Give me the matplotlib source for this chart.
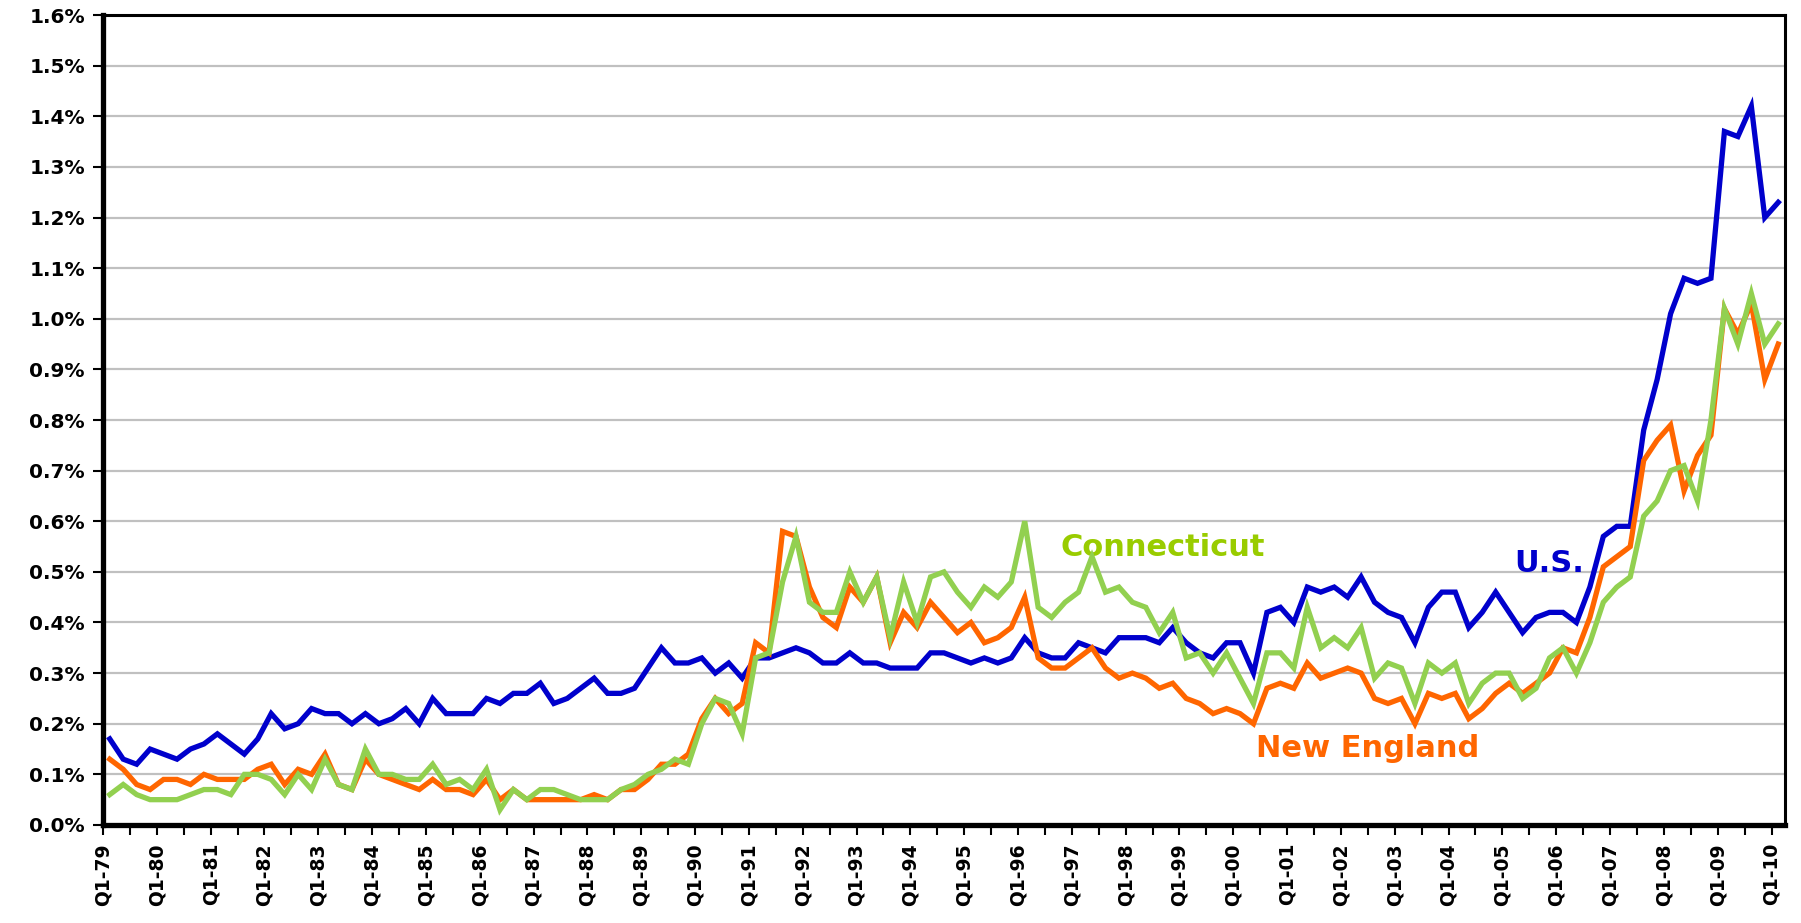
import matplotlib.pyplot as plt
from matplotlib.ticker import FixedLocator, FuncFormatter

# Quarterly rates, Q1-79 .. Q1-10 (percent)
us = [
    0.17, 0.13, 0.12, 0.15, 0.14, 0.13, 0.15, 0.16, 0.18, 0.16, 0.14, 0.17,
    0.22, 0.19, 0.20, 0.23, 0.22, 0.22, 0.20, 0.22, 0.20, 0.21, 0.23, 0.20,
    0.25, 0.22, 0.22, 0.22, 0.25, 0.24, 0.26, 0.26, 0.28, 0.24, 0.25, 0.27,
    0.29, 0.26, 0.26, 0.27, 0.31, 0.35, 0.32, 0.32, 0.33, 0.30, 0.32, 0.29,
    0.33, 0.33, 0.34, 0.35, 0.34, 0.32, 0.32, 0.34, 0.32, 0.32, 0.31, 0.31,
    0.31, 0.34, 0.34, 0.33, 0.32, 0.33, 0.32, 0.33, 0.37, 0.34, 0.33, 0.33,
    0.36, 0.35, 0.34, 0.37, 0.37, 0.37, 0.36, 0.39, 0.36, 0.34, 0.33, 0.36,
    0.36, 0.30, 0.42, 0.43, 0.40, 0.47, 0.46, 0.47, 0.45, 0.49, 0.44, 0.42,
    0.41, 0.36, 0.43, 0.46, 0.46, 0.39, 0.42, 0.46, 0.42, 0.38, 0.41, 0.42,
    0.42, 0.40, 0.47, 0.57, 0.59, 0.59, 0.78, 0.88, 1.01, 1.08, 1.07, 1.08,
    1.37, 1.36, 1.42, 1.20, 1.23,
]
new_england = [
    0.13, 0.11, 0.08, 0.07, 0.09, 0.09, 0.08, 0.10, 0.09, 0.09, 0.09, 0.11,
    0.12, 0.08, 0.11, 0.10, 0.14, 0.08, 0.07, 0.13, 0.10, 0.09, 0.08, 0.07,
    0.09, 0.07, 0.07, 0.06, 0.09, 0.05, 0.07, 0.05, 0.05, 0.05, 0.05, 0.05,
    0.06, 0.05, 0.07, 0.07, 0.09, 0.12, 0.12, 0.14, 0.21, 0.25, 0.22, 0.24,
    0.36, 0.34, 0.58, 0.57, 0.47, 0.41, 0.39, 0.47, 0.44, 0.49, 0.36, 0.42,
    0.39, 0.44, 0.41, 0.38, 0.40, 0.36, 0.37, 0.39, 0.45, 0.33, 0.31, 0.31,
    0.33, 0.35, 0.31, 0.29, 0.30, 0.29, 0.27, 0.28, 0.25, 0.24, 0.22, 0.23,
    0.22, 0.20, 0.27, 0.28, 0.27, 0.32, 0.29, 0.30, 0.31, 0.30, 0.25, 0.24,
    0.25, 0.20, 0.26, 0.25, 0.26, 0.21, 0.23, 0.26, 0.28, 0.26, 0.28, 0.30,
    0.35, 0.34, 0.41, 0.51, 0.53, 0.55, 0.72, 0.76, 0.79, 0.66, 0.73, 0.77,
    1.02, 0.97, 1.03, 0.88, 0.95,
]
connecticut = [
    0.06, 0.08, 0.06, 0.05, 0.05, 0.05, 0.06, 0.07, 0.07, 0.06, 0.10, 0.10,
    0.09, 0.06, 0.10, 0.07, 0.13, 0.08, 0.07, 0.15, 0.10, 0.10, 0.09, 0.09,
    0.12, 0.08, 0.09, 0.07, 0.11, 0.03, 0.07, 0.05, 0.07, 0.07, 0.06, 0.05,
    0.05, 0.05, 0.07, 0.08, 0.10, 0.11, 0.13, 0.12, 0.20, 0.25, 0.24, 0.18,
    0.33, 0.34, 0.48, 0.57, 0.44, 0.42, 0.42, 0.50, 0.44, 0.49, 0.37, 0.48,
    0.40, 0.49, 0.50, 0.46, 0.43, 0.47, 0.45, 0.48, 0.60, 0.43, 0.41, 0.44,
    0.46, 0.53, 0.46, 0.47, 0.44, 0.43, 0.38, 0.42, 0.33, 0.34, 0.30, 0.34,
    0.29, 0.24, 0.34, 0.34, 0.31, 0.43, 0.35, 0.37, 0.35, 0.39, 0.29, 0.32,
    0.31, 0.24, 0.32, 0.30, 0.32, 0.24, 0.28, 0.30, 0.30, 0.25, 0.27, 0.33,
    0.35, 0.30, 0.36, 0.44, 0.47, 0.49, 0.61, 0.64, 0.70, 0.71, 0.64, 0.80,
    1.02, 0.95, 1.05, 0.95, 0.99,
]
years = list(range(1979, 2011))
year_labels = [f"Q1-{y % 100:02d}" for y in years]

BLUE = '#0000CC'
ORANGE = '#FF6600'
GREEN = '#92D050'
GREEN_TEXT = '#99CC00'

plt.rcParams['font.family'] = ['DejaVu Sans']
plt.rcParams['font.weight'] = 'bold'

fig = plt.figure(figsize=(18.01, 9.23), dpi=100)
ax = fig.add_axes([0.0572, 0.1062, 0.9339, 0.8775])

x = list(range(len(us)))
ax.plot(x, us, color=BLUE, lw=3.8, solid_joinstyle='miter', zorder=3)
ax.plot(x, new_england, color=ORANGE, lw=3.8, solid_joinstyle='miter', zorder=4)
ax.plot(x, connecticut, color=GREEN, lw=3.8, solid_joinstyle='miter', zorder=5)

ax.set_xlim(-0.5, len(us) - 0.5)
ax.set_ylim(0, 1.6)

# y axis
ax.set_yticks([i / 10 for i in range(17)])
ax.yaxis.set_major_formatter(FuncFormatter(lambda v, p: f"{v:.1f}%"))
ax.grid(axis='y', color='#C0C0C0', lw=1.6, zorder=1)
ax.set_axisbelow(True)

# x axis: ticks every two quarters, labels at each Q1
ax.xaxis.set_major_locator(FixedLocator([4 * k - 0.5 for k in range(len(years))]))
ax.xaxis.set_minor_locator(FixedLocator([2 * k - 0.5 for k in range(63)]))
ax.set_xticklabels(year_labels, rotation=90)

ax.tick_params(axis='y', which='major', labelsize=14.5, length=7, width=1.5, pad=6)
ax.tick_params(axis='x', which='both', labelsize=13.5, length=7, width=1.5, pad=6)

for side in ['top', 'right']:
    ax.spines[side].set_linewidth(2.2)
for side in ['left', 'bottom']:
    ax.spines[side].set_linewidth(3.8)

# series labels
ax.text(0.630, 0.342, 'Connecticut', transform=ax.transAxes, color=GREEN_TEXT,
        fontsize=22, fontweight='bold', ha='center', va='center')
ax.text(0.860, 0.323, 'U.S.', transform=ax.transAxes, color=BLUE,
        fontsize=22, fontweight='bold', ha='center', va='center')
ax.text(0.752, 0.094, 'New England', transform=ax.transAxes, color=ORANGE,
        fontsize=22, fontweight='bold', ha='center', va='center')

fig.savefig('out.png', dpi=100)
